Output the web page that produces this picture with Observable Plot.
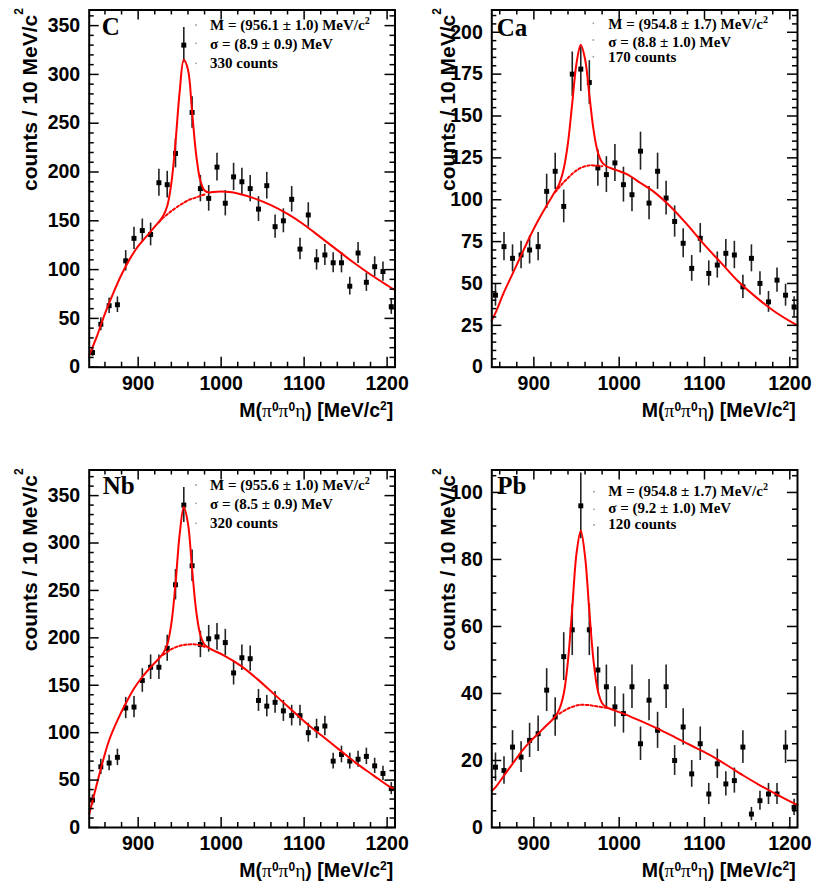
<!DOCTYPE html>
<html><head><meta charset="utf-8">
<script src="https://cdn.jsdelivr.net/npm/d3@7"></script>
<script src="https://cdn.jsdelivr.net/npm/@observablehq/plot@0.6"></script>
<style>
html,body{margin:0;padding:0;background:#fff;}
#root{position:relative;width:815px;height:887px;overflow:hidden;background:#fff;}
#root svg{position:absolute;overflow:visible;}
#root svg.overlay{pointer-events:none;background:none;}
</style></head><body><div id="root"></div>
<script>
// ---------- data ----------
const massA = [845,855,865,875,885,895,905,915,925,935,945,955,965,975,985,995,1005,1015,1025,1035,1045,1055,1065,1075,1085,1095,1105,1115,1125,1135,1145,1155,1165,1175,1185,1195,1205];
const massB = [855,865,875,885,895,905,915,925,935,945,955,965,975,985,995,1005,1015,1025,1035,1045,1055,1065,1075,1085,1095,1105,1115,1125,1135,1145,1155,1165,1175,1185,1195,1205];

const countsC  = [15,44,63,64,109,132,140,136,189,187,219,330,261,183,173,205,168,195,190,183,162,186,144,150,172,121,156,110,115,107,107,83,117,87,103,98,62];
const countsCa = [43,72,65,67,70,72,105,117,96,175,178,170,119,115,122,109,103,129,98,117,101,87,74,59,77,56,61,68,67,48,65,50,39,52,43,36];
const countsNb = [29,64,68,74,126,127,155,169,169,189,256,340,276,193,199,201,195,163,179,178,134,128,132,123,118,118,100,104,107,70,77,70,72,75,65,57,41];
const countsPb = [18,17,24,21,26,28,41,33,51,59,96,59,47,42,36,34,42,25,38,29,42,20,30,16,25,10,19,13,14,24,4,8,10,10,24,6];

// fit curves (total) and background under the peak
const fitMassC = [841,850,860,870,880,890,900,910,920,925,930,935,940,945,950,955,960,965,970,975,980,985,990,1000,1010,1020,1040,1060,1080,1100,1120,1140,1160,1180,1200,1209.5];
const fitC     = [12,31,55,76,95,111,124,134,144,149,155,165,188.5,230.5,282,315,305,261.5,217,191,181,179,179.5,180,179.5,178,173,166,157,146,133,120,107,95,84,79];
const bgMassC  = [925,930,935,940,945,950,955,960,965,970,975,980];
const bgC      = [148.5,153,156.5,160,163,166,168.5,171,172.5,174,175.5,177];

const fitMassCa = [850.7,855,865,875,885,895,905,915,925,930,935,940,945,950,955,960,965,970,975,980,985,995,1010,1025,1040,1060,1080,1100,1120,1140,1160,1180,1200,1209];
const fitCa     = [28,32.4,44.8,55.7,66.7,77.6,87.6,96.5,105,109.8,118.5,134,157.7,181.5,192.5,184,162.7,141.6,128.3,122.3,120,118,115,110,105,96,85,73,62,51,42,34,27.5,25];
const bgMassCa  = [925,930,935,940,945,950,955,960,965,970,975,980];
const bgCa      = [104.5,107.5,110.5,113,115.5,117.5,119,120,120.5,120.5,120.3,120];

const fitMassNb = [841,850,855,865,875,885,895,905,915,925,930,935,940,945,950,955,960,965,970,975,980,985,990,1003,1023,1043,1063,1083,1103,1123,1143,1163,1183,1203,1209.5];
const fitNb     = [14,45,62,92,113,130.7,146.5,158.7,169,178.2,183.6,192.7,215,257,309,338,320.7,272.5,227.8,202.8,192.9,189.4,187,181.6,171,157,141.2,125.5,109.7,95.6,81.6,67.6,55.3,43,40];
const bgMassNb  = [930,935,940,945,950,955,960,965,970,975,980];
const bgNb      = [182,185,188,190,191.5,192.5,193,193.2,193,192,190.5];

const fitMassPb = [850.7,855,865,875,885,895,905,915,925,930,935,940,945,950,955,960,965,970,975,980,985,1005,1025,1045,1065,1085,1105,1125,1145,1165,1185,1205,1209];
const fitPb     = [11,12,15.5,19,22.5,25.5,28,30.5,33.1,35.4,39.9,49.8,65.5,81.8,88.6,80.9,64.6,49.6,40.8,37.1,35.9,34,31.8,29.5,27,24.4,21.8,18.8,15.6,12.6,9.8,7.2,6.8];
const bgMassPb  = [930,935,940,945,950,955,960,965,970,975,980,985];
const bgPb      = [34,34.8,35.5,36,36.4,36.6,36.6,36.5,36.3,36.1,35.9,35.7];

// tick labels
const xMajor = [900,1000,1100,1200];
const xMinor = [860,880,920,940,960,980,1020,1040,1060,1080,1120,1140,1160,1180];
const yMajorC  = [0,50,100,150,200,250,300,350];
const yMajorCa = [0,25,50,75,100,125,150,175,200];
const yMajorNb = [0,50,100,150,200,250,300,350];
const yMajorPb = [0,20,40,60,80,100];

// legend texts
const targets = ["C","Ca","Nb","Pb"];
const massText  = ["(956.1 ± 1.0)","(954.8 ± 1.7)","(955.6 ± 1.0)","(954.8 ± 1.7)"];
const sigmaText = ["(8.9 ± 0.9)","(8.8 ± 1.0)","(8.5 ± 0.9)","(9.2 ± 1.0)"];
const countText = ["330 counts","170 counts","320 counts","120 counts"];

// ---------- layout ----------
const SANS = "'Liberation Sans', Arial, Helvetica, sans-serif";
const SERIF = "'Liberation Serif', 'Times New Roman', Times, serif";

const panels = [
  {i:0, left:0, top:0, width:408, height:440, ml:88.7, mr:13.5, mt:9.5, mb:73.3, xDomain:[841,1209.5], yMax:366, yMajor:yMajorC, yStep:10,
   mass:massA, counts:countsC, fitMass:fitMassC, fit:fitC, bgMass:bgMassC, bg:bgC,
   lab:[101.7,34.5], leg:[210,[30,49,68.3]], dotx:196, doty:[25,43.3,63.3], yt:[37,8], xt:[393.3,416.7]},
  {i:1, left:408, top:0, width:407, height:440, ml:83.3, mr:18, mt:9.5, mb:73.3, xDomain:[850.7,1209], yMax:213.3, yMajor:yMajorCa, yStep:5,
   mass:massB, counts:countsCa, fitMass:fitMassCa, fit:fitCa, bgMass:bgMassCa, bg:bgCa,
   lab:[88.7,35.5], leg:[200.3,[29.3,46.7,61.7]], dotx:185.3, doty:[23.3,40,56.7], yt:[47,8], xt:[387.8,416.7]},
  {i:2, left:0, top:440, width:408, height:447, ml:88.7, mr:13.5, mt:29.5, mb:60, xDomain:[841,1209.5], yMax:377, yMajor:yMajorNb, yStep:10,
   mass:massA, counts:countsNb, fitMass:fitMassNb, fit:fitNb, bgMass:bgMassNb, bg:bgNb,
   lab:[102.7,54.3], leg:[210,[50,69,88.3]], dotx:196, doty:[45,63.3,83.3], yt:[37,28.3], xt:[393.3,437]},
  {i:3, left:408, top:440, width:407, height:447, ml:83.3, mr:18, mt:29.5, mb:60, xDomain:[850.7,1209], yMax:106.7, yMajor:yMajorPb, yStep:5,
   mass:massB, counts:countsPb, fitMass:fitMassPb, fit:fitPb, bgMass:bgMassPb, bg:bgPb,
   lab:[89.3,54.3], leg:[200.3,[56,72.7,89.3]], dotx:186, doty:[51.7,69.3,85], yt:[47,28.3], xt:[387.8,437]}
];

const root = document.getElementById("root");

function makePanel(c) {
  const pts = c.mass.map((m,k)=>({m, n:c.counts[k]}));
  const fit = c.fitMass.map((m,k)=>({m, v:c.fit[k]}));
  const bg  = c.bgMass.map((m,k)=>({m, v:c.bg[k]}));
  const fw = c.width - c.ml - c.mr, fh = c.height - c.mt - c.mb;
  const xLo = c.xDomain[0], xHi = c.xDomain[1], yLo = 0, yHi = c.yMax;
  // tick lengths (5 px minor, 10 px major) expressed in data units of each scale
  const kx = (xHi - xLo) / fw, ky = (yHi - yLo) / fh;
  const yMinor = d3.range(0, c.yMax, c.yStep).filter(v => !c.yMajor.includes(v));
  const xTickData = [...xMinor.map(v => ({v, len:5})), ...xMajor.map(v => ({v, len:10}))];
  const yTickData = [...yMinor.map(v => ({v, len:5})), ...c.yMajor.map(v => ({v, len:10}))];
  const svg = Plot.plot({
    width:c.width, height:c.height,
    marginLeft:c.ml, marginRight:c.mr, marginTop:c.mt, marginBottom:c.mb,
    x:{domain:c.xDomain, axis:null, label:null},
    y:{domain:[0,c.yMax], axis:null, label:null},
    style:{fontFamily:SANS, fontSize:"19.5px", fontWeight:"bold", background:"transparent", overflow:"visible"},
    marks:[
      Plot.ruleX(pts, {x:"m", y1:d=>d.n-Math.sqrt(d.n), y2:d=>d.n+Math.sqrt(d.n), stroke:"#222", strokeWidth:1.6}),
      Plot.dot(pts, {x:"m", y:"n", symbol:"square", r:2.8, fill:"#000", stroke:"none"}),
      Plot.line(bg, {x:"m", y:"v", curve:"catmull-rom", stroke:"#ff0000", strokeWidth:2, strokeDasharray:"2.5,2.2"}),
      Plot.line(fit, {x:"m", y:"v", curve:"catmull-rom", stroke:"#ff0000", strokeWidth:2}),
      // inward tick marks on all four sides
      Plot.ruleX(xTickData, {x:"v", y1:d=>yLo, y2:d=>yLo + d.len*ky, stroke:"#000", strokeWidth:1.5}),
      Plot.ruleX(xTickData, {x:"v", y1:d=>yHi - d.len*ky, y2:d=>yHi, stroke:"#000", strokeWidth:1.5}),
      Plot.ruleY(yTickData, {y:"v", x1:d=>xLo, x2:d=>xLo + d.len*kx, stroke:"#000", strokeWidth:1.5}),
      Plot.ruleY(yTickData, {y:"v", x1:d=>xHi - d.len*kx, x2:d=>xHi, stroke:"#000", strokeWidth:1.5}),
      Plot.frame({stroke:"#000", strokeWidth:2}),
      Plot.text(c.yMajor, {y:d=>d, text:d=>String(d), frameAnchor:"left", textAnchor:"end", dx:-9, fontSize:19.5, fontWeight:"bold", fill:"#000"}),
      Plot.text(xMajor, {x:d=>d, text:d=>String(d), frameAnchor:"bottom", lineAnchor:"top", dy:9, fontSize:19.5, fontWeight:"bold", fill:"#000"})
    ]
  });
  svg.style.left = c.left + "px";
  svg.style.top = c.top + "px";
  root.appendChild(svg);

  // separate overlay for titles, target label and legend
  const ov = d3.create("svg")
    .attr("class","overlay")
    .attr("width", c.width).attr("height", c.height)
    .attr("viewBox", `0 0 ${c.width} ${c.height}`)
    .style("left", c.left + "px").style("top", c.top + "px");
  const g = ov.append("g").attr("fill","#000");

  // y title
  const yt = g.append("text")
    .attr("transform", `translate(${c.yt[0]},${c.yt[1]}) rotate(-90)`)
    .attr("text-anchor","end").attr("font-family",SANS).attr("font-weight","bold")
    .attr("font-size",21);
  yt.append("tspan").text("counts / 10 MeV/c");
  yt.append("tspan").attr("font-size",12).attr("dy",-14).text("2");

  // x title
  const xt = g.append("text")
    .attr("x",c.xt[0]).attr("y",c.xt[1]).attr("text-anchor","end")
    .attr("font-family",SANS).attr("font-weight","bold").attr("font-size",19.5);
  xt.append("tspan").text("M(");
  xt.append("tspan").attr("font-family",SERIF).attr("font-weight","normal").text("π");
  xt.append("tspan").attr("font-size",12).attr("dy",-6).text("0");
  xt.append("tspan").attr("font-family",SERIF).attr("font-weight","normal").attr("dy",6).text("π");
  xt.append("tspan").attr("font-size",12).attr("dy",-6).text("0");
  xt.append("tspan").attr("font-family",SERIF).attr("font-weight","normal").attr("dy",6).text("η");
  xt.append("tspan").text(") [MeV/c");
  xt.append("tspan").attr("font-size",12).attr("dy",-7).text("2");
  xt.append("tspan").attr("dy",7).text("]");

  // target label
  g.append("text").attr("x",c.lab[0]).attr("y",c.lab[1]).attr("text-anchor","start")
    .attr("font-family",SERIF).attr("font-weight","bold").attr("font-size",25)
    .text(targets[c.i]);

  // legend
  const lg = g.append("g").attr("text-anchor","start").attr("font-family",SERIF).attr("font-weight","bold").attr("font-size",15);
  const l1 = lg.append("text").attr("x",c.leg[0]).attr("y",c.leg[1][0]);
  l1.append("tspan").text(`M = ${massText[c.i]} MeV/c`);
  l1.append("tspan").attr("font-size",10).attr("dy",-6).text("2");
  lg.append("text").attr("x",c.leg[0]).attr("y",c.leg[1][1]).text(`σ = ${sigmaText[c.i]} MeV`);
  lg.append("text").attr("x",c.leg[0]).attr("y",c.leg[1][2]).text(countText[c.i]);
  c.doty.forEach(yy => g.append("circle").attr("cx",c.dotx).attr("cy",yy).attr("r",0.9).attr("fill","#999"));

  root.appendChild(ov.node());
}
panels.forEach(makePanel);
</script>
</body></html>
